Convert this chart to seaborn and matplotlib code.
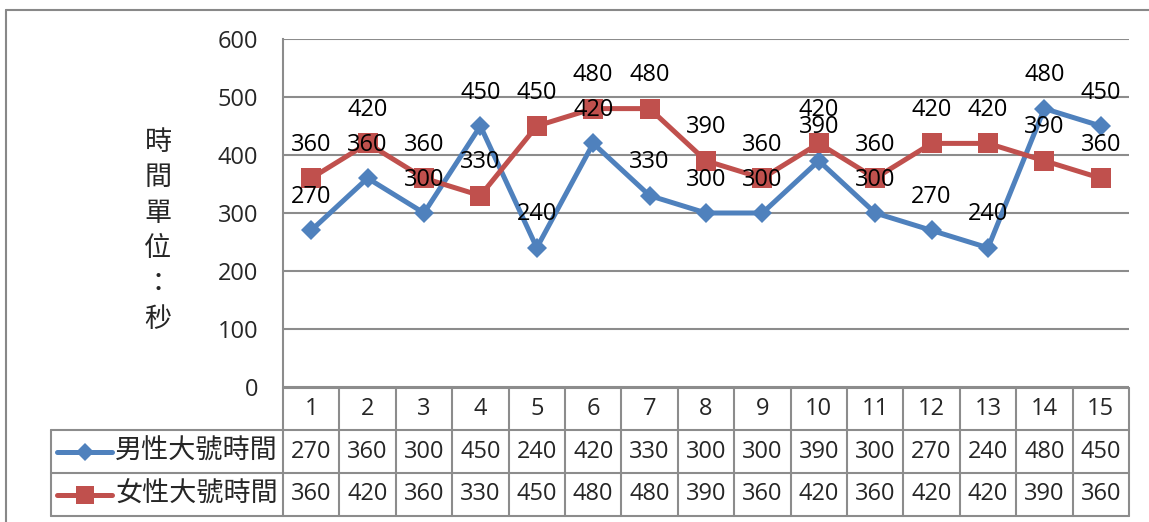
import matplotlib
matplotlib.use("Agg")
import matplotlib.pyplot as plt
from matplotlib.lines import Line2D
import matplotlib.transforms as mtransforms
import numpy as np
import pandas as pd
import seaborn as sns

# ---- data ----
categories = list(range(1, 16))
male_name = "男性大號時間"
female_name = "女性大號時間"
male_values = [270, 360, 300, 450, 240, 420, 330, 300, 300, 390, 300, 270, 240, 480, 450]
female_values = [360, 420, 360, 330, 450, 480, 480, 390, 360, 420, 360, 420, 420, 390, 360]
y_ticks = [0, 100, 200, 300, 400, 500, 600]
y_title = "時間單位：秒"

BLUE = "#4F81BD"
RED = "#C0504D"
GRID = "#8C8C8C"

sns.set_theme(style="white")
plt.rcParams["font.family"] = ["Open Sans", "Noto Sans CJK TC", "DejaVu Sans"]
plt.rcParams["axes.unicode_minus"] = False

W, H = 1149, 522
fig = plt.figure(figsize=(W / 100, H / 100), dpi=100)
fig.patch.set_facecolor("white")

ax = fig.add_axes([283 / W, 1 - 387 / H, (1129 - 283) / W, (387 - 39) / H])

df = pd.concat([
    pd.DataFrame({"序號": categories, "秒數": male_values, "項目": male_name}),
    pd.DataFrame({"序號": categories, "秒數": female_values, "項目": female_name}),
], ignore_index=True)

sns.lineplot(data=df[df["項目"] == male_name], x="序號", y="秒數", ax=ax,
             color=BLUE, lw=3.6, marker="D", markersize=9.8,
             markeredgecolor=BLUE, markeredgewidth=0, legend=False, zorder=3)
sns.lineplot(data=df[df["項目"] == female_name], x="序號", y="秒數", ax=ax,
             color=RED, lw=3.6, marker="s", markersize=14.5,
             markeredgecolor=RED, markeredgewidth=0, legend=False, zorder=4)

# data labels above each marker
for series in (male_values, female_values):
    for x, v in zip(categories, series):
        ax.annotate(str(v), (x, v), xytext=(0, 24), textcoords="offset points",
                    ha="center", va="center", fontsize=17, color="black", zorder=6)

ax.set_xlim(0.5, 15.5)
ax.set_ylim(0, 600)
ax.set_yticks(y_ticks)
ax.set_yticklabels([str(t) for t in y_ticks], fontsize=17)
ax.set_xticks([])
ax.set_xlabel("")
ax.set_ylabel("")
ax.tick_params(axis="y", length=0, pad=18)
ax.grid(axis="y", color=GRID, lw=1.5)
ax.set_axisbelow(True)
for side in ("top", "right", "bottom"):
    ax.spines[side].set_visible(False)
ax.spines["left"].set_color(GRID)
ax.spines["left"].set_linewidth(1.5)

# vertical axis title, one character per line
fig.text(158 / W, 1 - 231 / H, "\n".join(y_title), ha="center", va="center",
         fontsize=19.5, family=["Noto Sans CJK TC"], linespacing=1.4)

# ---- data table under the plot ----
tr = mtransforms.blended_transform_factory(ax.transData, ax.transAxes)
px = 1.0 / (387 - 39)  # one pixel in axes-fraction units (vertical)
y_head_top = -1 * px
y_row1 = -43 * px
y_row2 = -86 * px
y_bottom = -129 * px
legend_left = (51 - 283) / (1129 - 283)
line_kw = dict(color=GRID, lw=1.5, clip_on=False, zorder=1)

# horizontal rules
ax.plot([0.5, 15.5], [y_head_top, y_head_top], transform=tr, **line_kw)
for yy in (y_row1, y_row2, y_bottom):
    ax.plot([legend_left, 1.0], [yy, yy], transform=ax.transAxes, **line_kw)
# vertical rules
for i in range(16):
    xx = 0.5 + i
    ax.plot([xx, xx], [y_head_top, y_bottom], transform=tr, **line_kw)
ax.plot([legend_left, legend_left], [y_row1, y_bottom], transform=ax.transAxes, **line_kw)

# header numbers and values
for x in categories:
    ax.text(x, (y_head_top + y_row1) / 2, str(x), transform=tr, ha="center",
            va="center", fontsize=17)
for x, mv, fv in zip(categories, male_values, female_values):
    ax.text(x, (y_row1 + y_row2) / 2, str(mv), transform=tr, ha="center",
            va="center", fontsize=17)
    ax.text(x, (y_row2 + y_bottom) / 2, str(fv), transform=tr, ha="center",
            va="center", fontsize=17)

# legend keys inside the table
key_l = (57 - 283) / (1129 - 283)
key_r = (112 - 283) / (1129 - 283)
key_c = (key_l + key_r) / 2
text_x = (115 - 283) / (1129 - 283)
for (yy0, yy1), color, mk, ms, name in (
        ((y_row1, y_row2), BLUE, "D", 9.0, male_name),
        ((y_row2, y_bottom), RED, "s", 12.5, female_name)):
    yc = (yy0 + yy1) / 2
    ax.add_line(Line2D([key_l, key_r], [yc, yc], transform=ax.transAxes, color=color,
                       lw=3.6, solid_capstyle="round", clip_on=False))
    ax.add_line(Line2D([key_c], [yc], transform=ax.transAxes, color=color, marker=mk,
                       markersize=ms, markeredgewidth=0, clip_on=False))
    ax.text(text_x, yc, name, transform=ax.transAxes, ha="left", va="center",
            fontsize=19.5, family=["Noto Sans CJK TC"])

# outer chart frame (top and left edges visible)
fig.add_artist(Line2D([6 / W, 6 / W], [0, 1 - 10 / H], color="#888888", lw=1.5))
fig.add_artist(Line2D([6 / W, 1], [1 - 10 / H, 1 - 10 / H], color="#888888", lw=1.5))

fig.savefig("out.png", dpi=100, facecolor="white")
